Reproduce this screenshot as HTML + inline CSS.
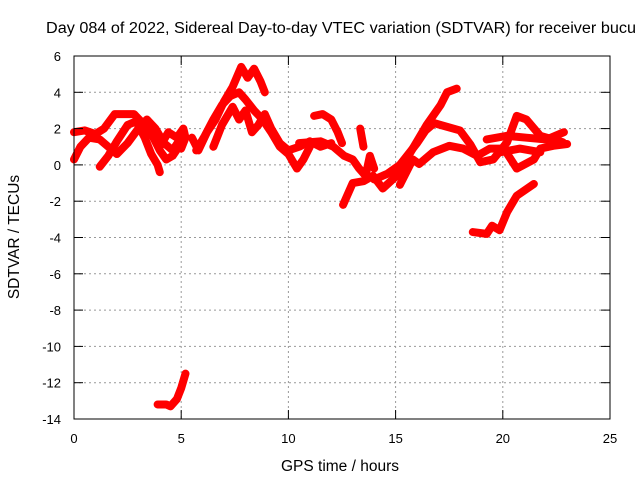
<!DOCTYPE html>
<html><head><meta charset="utf-8"><style>
body{margin:0;background:#fff;width:640px;height:480px;overflow:hidden}
svg text{font-family:"Liberation Sans",sans-serif;font-size:13px;fill:#000}
</style></head><body>
<svg id="chart" width="640" height="480" xmlns="http://www.w3.org/2000/svg">
<text x="46" y="33" style="font-size:15.5px" textLength="590" lengthAdjust="spacingAndGlyphs">Day 084 of 2022, Sidereal Day-to-day VTEC variation (SDTVAR) for receiver bucu</text>
<g id="grid"></g>
<g id="series"></g>
<rect x="74" y="56" width="536" height="363" fill="none" stroke="#000" stroke-width="1"/>
<g id="ticks"></g>
<text x="340" y="471" text-anchor="middle" style="font-size:15.5px">GPS time / hours</text>
<text transform="translate(19,237) rotate(-90)" text-anchor="middle" style="font-size:15.5px">SDTVAR / TECUs</text>
</svg>
<script>
const xTicks=[0,5,10,15,20,25];
const yTicks=[6,4,2,0,-2,-4,-6,-8,-10,-12,-14];
const t1=[[0.0,0.3],[0.3,1.0],[0.7,1.5],[1.2,1.4],[1.6,1.0],[2.0,0.6],[2.5,1.2],[3.0,2.0],[3.4,2.5],[3.8,2.0],[4.2,1.2],[4.6,0.8],[5.0,1.5]];
const t2=[[0.0,1.8],[0.5,1.9],[1.0,1.7],[1.4,2.0],[1.9,2.8],[2.3,2.8],[2.8,2.8],[3.2,2.3],[3.7,1.5],[4.0,0.8],[4.3,0.3],[4.6,0.5],[5.0,1.2]];
const t3=[[1.2,-0.1],[1.6,0.5],[2.0,1.3],[2.5,2.2],[2.9,2.4],[3.3,1.5],[3.6,0.6],[3.9,0.0],[4.0,-0.4]];
const t5=[[4.0,1.0],[4.4,1.8],[4.8,1.5],[5.1,2.0],[5.2,1.5],[5.0,0.9]];
const t6=[[5.5,1.5],[5.8,0.8],[6.2,1.8],[6.6,2.5],[7.0,3.5],[7.4,4.3],[7.8,5.4],[8.1,4.8],[8.4,5.3],[8.7,4.6],[8.9,4.0]];
const t7=[[5.7,0.8],[6.1,1.6],[6.5,2.5],[6.9,3.3],[7.3,3.8],[7.7,4.0],[8.0,3.6],[8.4,3.0],[8.8,2.5],[9.2,1.8],[9.6,1.0],[10.0,0.6],[10.4,-0.2],[10.7,0.3],[11.0,1.0]];
const t8=[[6.5,1.0],[6.9,2.2],[7.4,3.2],[7.7,2.5],[8.0,3.0],[8.3,1.8],[8.6,2.2],[8.9,2.8],[9.2,2.0],[9.6,1.2],[10.0,0.8],[10.5,1.0],[11.0,1.3],[11.5,1.0],[12.0,1.2]];
const t9=[[11.2,2.7],[11.6,2.8],[12.0,2.5],[12.3,1.8],[12.5,1.2]];
const t10=[[12.55,-2.2],[13.0,-1.0],[13.5,-0.9],[13.95,-0.6],[14.4,-1.3],[15.05,-0.6],[15.8,0.9],[16.45,2.2],[17.1,3.3],[17.4,4.0],[17.85,4.2]];
const t11=[[14.0,-0.8],[14.6,-0.5],[15.2,0.0],[15.6,0.6],[16.0,1.2],[16.4,1.9],[16.8,2.3],[17.1,2.2],[18.0,1.9],[18.5,1.1],[18.95,0.15],[19.55,0.3],[20.2,1.25],[20.65,2.7],[21.1,2.5],[21.75,1.6],[22.8,1.25]];
const t12=[[15.2,-1.1],[15.8,0.3],[16.1,0.05],[16.75,0.7],[17.5,1.05],[18.15,0.9],[18.8,0.5],[19.4,0.9],[20.05,0.9],[20.65,-0.2],[21.45,0.3],[21.75,0.9],[22.35,1.05],[23.0,1.15]];
const t13=[[19.25,1.4],[20.2,1.6],[21.1,1.5],[22.05,1.4],[22.85,1.8]];
const t14=[[19.9,0.7],[20.8,0.9],[21.75,0.7]];
const t15=[[10.5,1.2],[11.5,1.3],[12.1,1.0],[12.6,0.5],[13.0,0.3],[13.3,-0.2],[13.6,-0.6],[13.8,0.5],[14.0,-0.2]];
const t16=[[13.35,2.0],[13.5,1.0]];
const t17=[[18.6,-3.7],[19.25,-3.8],[19.5,-3.35],[19.85,-3.6],[20.2,-2.6],[20.65,-1.7],[21.45,-1.05]];
const t18=[[3.9,-13.2],[4.3,-13.2],[4.5,-13.3],[4.8,-12.9],[5.0,-12.3],[5.2,-11.5]];
const tracks=[t1,t2,t3,t5,t6,t7,t8,t9,t10,t11,t12,t13,t14,t15,t16,t17,t18];

const X=h=>74+h*536/25, Y=v=>56+(6-v)*363/20;
const NS="http://www.w3.org/2000/svg";
const grid=document.getElementById('grid'),ticks=document.getElementById('ticks'),ser=document.getElementById('series');
function mk(tag,attrs,parent){const e=document.createElementNS(NS,tag);for(const k in attrs)e.setAttribute(k,attrs[k]);parent.appendChild(e);return e;}
xTicks.forEach(t=>{
  const x=X(t);
  if(t>0&&t<25){const g=mk('line',{x1:x,x2:x,y1:56,y2:419,stroke:'#999','stroke-dasharray':'2,3'},grid);
  
  }
  mk('line',{x1:x,x2:x,y1:419,y2:410,stroke:'#000'},ticks);
  mk('line',{x1:x,x2:x,y1:56,y2:65,stroke:'#000'},ticks);
  const l=mk('text',{x:x,y:443,'text-anchor':'middle'},ticks);l.textContent=t;
  
  
});
yTicks.forEach(t=>{
  const y=Y(t);
  if(t<6&&t>-14){const g=mk('line',{x1:74,x2:610,y1:y,y2:y,stroke:'#999','stroke-dasharray':'2,3'},grid);
  
  }
  mk('line',{x1:74,x2:83,y1:y,y2:y,stroke:'#000'},ticks);
  mk('line',{x1:601,x2:610,y1:y,y2:y,stroke:'#000'},ticks);
  const l=mk('text',{x:61,y:y+5,'text-anchor':'end'},ticks);l.textContent=t;
  
  
});
tracks.forEach(tr=>{
  const p=mk('polyline',{points:tr.map(d=>X(d[0])+','+Y(d[1])).join(' '),fill:'none',stroke:'#f00','stroke-width':8,'stroke-linejoin':'round','stroke-linecap':'round'},ser);
  
  
});
</script>
</body></html>
